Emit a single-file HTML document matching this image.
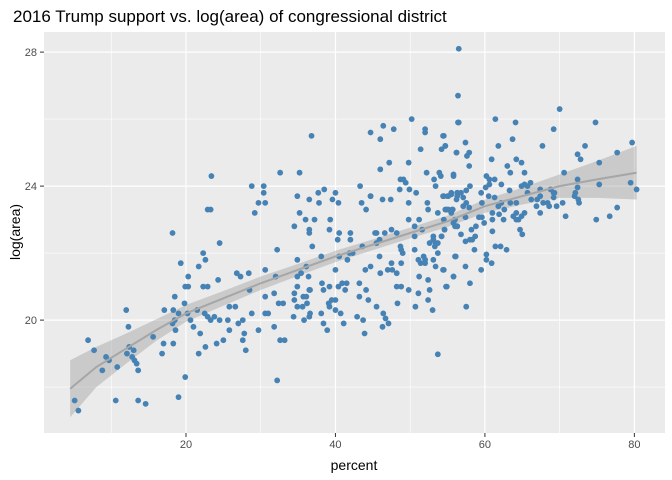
<!DOCTYPE html>
<html><head><meta charset="utf-8"><style>
body{margin:0;background:#fff;font-family:"Liberation Sans",sans-serif}
svg{display:block}
</style></head><body>
<svg id="chart" width="672" height="480" xmlns="http://www.w3.org/2000/svg">
<text x="13" y="22" font-size="17" fill="#000">2016 Trump support vs. log(area) of congressional district</text>
<rect x="44" y="32" width="621" height="401" fill="#ebebeb"/>
<g id="grid"></g><g id="ribbon"></g><g id="pts"></g><g id="axes"></g>
<text x="354" y="470" font-size="14" text-anchor="middle" fill="#000">percent</text>
<text transform="translate(20,232) rotate(-90)" font-size="14" text-anchor="middle" fill="#000">log(area)</text>
</svg>
<script>
const xTicks=[20,40,60,80];
const yTicks=[20,24,28];
const xMinor=[10,30,50,70];
const yMinor=[18,22,26];
const ptX=[5.1,5.6,6.9,7.7,9.3,9.7,8.8,10.8,10.6,12.0,12.3,12.4,12.1,13.0,12.8,13.1,13.4,13.6,13.6,14.6,15.6,16.8,17.0,18.2,17.1,18.3,18.5,19.3,19.0,18.2,18.5,18.6,18.3,19.9,19.0,19.8,19.9,20.3,20.3,20.2,20.6,21.0,21.5,21.7,22.3,22.6,22.3,22.9,21.9,21.7,22.6,22.5,22.9,23.3,23.8,23.4,22.9,23.3,24.5,24.3,24.5,24.1,25.0,25.6,25.8,25.8,26.6,26.8,27.3,28.4,28.5,28.8,27.0,27.6,27.8,27.6,28.0,29.7,28.8,29.2,29.7,30.4,30.4,
30.6,36.8,32.6,35.2,32.2,30.6,30.6,31.8,32.0,32.4,33.0,30.6,31.0,31.8,32.6,33.2,32.2,34.4,34.5,34.5,34.9,34.9,34.9,35.2,34.5,36.0,36.5,36.5,36.5,36.9,37.2,37.7,38.5,37.8,39.3,39.2,39.6,40.0,40.4,40.5,40.3,42.0,42.0,43.3,43.5,44.1,44.7,46.4,46.0,47.8,50.2,52.0,52.0,54.5,56.5,51.4,54.2,54.7,56.2,47.2,46.0,49.8,52.2,53.9,54.1,53.2,53.4,55.8,48.7,49.1,49.4,48.6,49.9,50.8,44.7,44.7,46.3,47.4,49.8,52.3,52.4,54.5,55.0,55.5,56.3,56.3,54.9,55.7,53.7,54.5,49.8,51.2,50.6,51.6,50.6,48.2,47.5,46.6,45.3,45.5,45.9,43.6,45.5,45.9,48.7,48.8,49.0,50.6,53.1,53.1,53.4,53.3,53.7,52.6,54.2,54.6,55.8,56.3,56.1,53.7,51.8,52.0,51.1,51.4,52.0,53.1,53.4,54.5,51.2,52.4,52.6,55.8,54.9,51.1,52.4,53.0,50.7,49.8,48.8,48.2,48.2,48.8,48.3,47.0,47.6,47.5,46.0,44.7,44.0,43.2,44.1,43.2,44.4,45.5,46.4,46.7,47.1,46.3,42.9,43.7,43.9,41.1,40.7,40.0,39.2,39.1,39.5,40.0,39.2,38.2,38.4,40.4,40.9,41.5,41.3,40.0,40.5,41.6,41.9,42.3,38.1,36.1,36.4,34.9,35.4,36.5,36.6,35.7,36.1,34.9,35.6,36.2,35.8,36.5,36.6,38.1,38.4,38.9,53.7,
56.5,56.4,56.4,61.4,64.1,70.0,69.2,74.8,79.7,54.4,54.7,57.4,56.2,57.6,57.9,57.9,61.8,63.7,60.9,67.7,63.0,64.2,64.9,63.4,65.3,60.2,60.6,61.3,60.6,55.8,62.2,58.0,60.1,59.5,63.3,64.9,65.3,65.7,66.1,70.6,73.4,72.4,72.8,75.3,77.7,72.4,72.4,75.3,79.5,80.3,54.4,55.1,55.5,56.3,56.8,57.1,57.5,56.2,57.5,57.9,57.4,57.1,54.7,55.1,55.6,55.5,55.8,56.0,56.3,56.0,54.6,54.2,56.8,58.2,58.8,57.4,58.0,58.3,58.7,58.6,56.0,54.4,57.4,55.8,54.8,58.0,57.5,60.2,60.2,60.9,59.5,61.4,62.1,62.9,61.0,59.9,59.2,59.6,59.6,60.5,61.3,61.0,61.0,61.9,62.5,61.8,62.2,62.6,63.4,64.2,63.8,64.2,64.5,64.9,65.3,64.2,64.7,65.0,65.7,66.2,66.9,67.4,67.0,67.4,67.4,67.8,68.4,68.6,68.8,69.2,69.2,69.3,69.6,70.4,70.8,72.0,72.1,72.5,72.6,74.9,76.7,77.7];
const ptY=[17.6,17.3,19.4,19.1,18.9,18.8,18.5,18.6,17.6,20.3,19.8,19.2,19.0,19.1,18.9,18.8,18.7,18.5,17.6,17.5,19.5,19.0,19.3,22.6,20.3,20.3,20.7,21.7,20.2,19.9,20.0,19.7,19.3,18.3,17.7,20.5,21.0,21.3,21.0,20.2,20.0,19.8,20.3,21.6,22.0,21.8,21.0,21.0,19.6,19.0,19.2,20.2,20.1,20.0,20.1,24.3,23.3,23.3,22.3,21.2,20.0,19.3,19.4,20.0,19.7,20.4,20.4,21.4,21.3,21.4,20.9,20.2,19.9,20.0,19.6,19.4,19.1,19.7,24.0,23.2,23.5,24.0,23.8,
23.5,25.5,24.4,24.4,22.1,21.5,20.7,20.8,21.3,20.5,20.5,20.2,20.2,19.8,19.4,19.4,18.2,20.1,20.6,20.8,21.0,21.8,23.7,23.2,22.8,23.0,23.6,22.7,22.6,22.2,23.0,23.8,23.9,23.5,23.0,22.7,23.6,23.8,23.5,22.6,22.4,22.6,22.4,24.0,23.5,23.3,25.6,25.8,25.4,25.7,26.0,25.7,25.6,25.5,25.9,25.1,25.1,25.2,25.0,24.7,24.5,24.7,24.4,24.4,24.3,24.2,24.0,24.3,24.2,24.2,24.1,23.9,23.9,23.8,23.7,23.7,23.6,23.6,23.5,23.5,23.3,23.7,23.7,23.8,23.8,23.7,23.3,23.3,23.2,23.0,23.0,23.0,22.8,22.7,22.5,22.6,22.7,22.6,22.6,22.6,22.4,22.2,22.3,21.9,22.2,22.1,22.0,22.1,22.5,22.4,22.3,22.2,22.3,22.3,22.5,22.7,22.9,22.8,21.9,22.0,21.9,21.8,21.8,21.7,21.7,21.8,21.6,21.5,21.3,21.2,20.9,21.3,21.0,20.8,20.6,20.3,20.4,20.9,21.7,21.4,21.0,21.0,20.5,21.5,21.5,21.7,21.4,21.6,21.5,21.1,20.9,20.7,20.6,20.4,20.2,20.05,19.9,19.8,20.1,20.0,19.6,19.9,20.2,20.3,20.4,20.5,20.6,20.6,21.0,21.1,20.9,21.0,21.1,21.1,20.9,21.5,21.9,21.8,22.0,22.0,21.9,21.6,21.3,21.3,21.4,20.9,20.9,20.7,20.7,20.4,20.4,20.5,20.0,20.1,20.2,20.2,19.9,19.7,18.98,
28.1,26.7,25.9,26.0,25.9,26.3,25.7,25.9,25.3,25.5,25.2,25.3,25.0,24.9,25.0,24.6,25.2,25.4,24.8,25.2,24.6,24.8,24.7,24.4,24.4,24.3,24.2,24.2,24.05,24.35,24.05,24.0,23.96,23.8,23.87,24.0,24.05,24.0,24.1,24.4,25.2,24.95,24.8,24.7,25.0,24.2,23.96,24.05,24.1,23.9,23.7,23.7,23.75,23.8,23.8,23.66,23.87,23.6,23.5,23.36,23.07,23.4,23.3,23.3,23.3,23.2,22.9,22.8,22.8,23.0,22.7,22.5,22.56,22.7,22.8,22.35,22.4,22.4,22.5,22.1,21.9,21.5,21.6,21.3,21.0,21.1,20.4,21.96,21.8,21.7,21.5,22.2,22.2,22.1,22.65,22.9,23.07,23.07,23.5,23.7,23.66,23.2,23.0,23.16,23.0,23.4,23.5,23.3,23.5,23.5,23.1,23.0,23.0,23.1,23.2,23.2,22.7,22.56,23.8,23.6,23.4,23.2,23.6,23.7,23.9,23.5,23.5,23.4,23.9,23.8,23.66,23.8,23.4,23.5,23.1,23.7,23.8,23.6,23.5,23.0,23.1,23.36];
const fitX=[4.5,8,12,16,20,25,30,35,40,45,50,55,60,65,70,75,80.3];
const fitY=[17.95,18.6,19.15,19.7,20.2,20.65,21.1,21.5,21.9,22.25,22.6,22.95,23.4,23.7,24.0,24.2,24.4];
const fitSE=[0.85,0.6,0.45,0.32,0.25,0.22,0.2,0.18,0.17,0.16,0.16,0.17,0.2,0.25,0.35,0.55,0.8];
const X0=1.0,X1=84.1,Y0=16.63,Y1=28.6,L=44,R=665,T=32,B=433;
const sx=v=>L+(v-X0)/(X1-X0)*(R-L);
const sy=v=>B-(v-Y0)/(Y1-Y0)*(B-T);
const NS="http://www.w3.org/2000/svg";
function mk(tag,parent,attrs){const e=document.createElementNS(NS,tag);for(const k in attrs)e.setAttribute(k,attrs[k]);parent.appendChild(e);return e;}
const grid=document.getElementById('grid'),axes=document.getElementById('axes');
xMinor.forEach(v=>{const l=mk('line',grid,{x1:sx(v),x2:sx(v),y1:T,y2:B,stroke:'#fff','stroke-width':0.6});

});
yMinor.forEach(v=>{const l=mk('line',grid,{x1:L,x2:R,y1:sy(v),y2:sy(v),stroke:'#fff','stroke-width':0.6});

});
xTicks.forEach(v=>{const l=mk('line',grid,{x1:sx(v),x2:sx(v),y1:T,y2:B,stroke:'#fff','stroke-width':1.2});


const t=mk('line',axes,{x1:sx(v),x2:sx(v),y1:B,y2:B+4,stroke:'#333'});


const tx=mk('text',axes,{x:sx(v),y:B+15,'font-size':11,fill:'#4d4d4d','text-anchor':'middle'});tx.textContent=v;

});
yTicks.forEach(v=>{const l=mk('line',grid,{x1:L,x2:R,y1:sy(v),y2:sy(v),stroke:'#fff','stroke-width':1.2});


const t=mk('line',axes,{x1:L-4,x2:L,y1:sy(v),y2:sy(v),stroke:'#333'});


const tx=mk('text',axes,{x:L-7,y:sy(v)+4,'font-size':11,fill:'#4d4d4d','text-anchor':'end'});tx.textContent=v;

});
const rib=document.getElementById('ribbon');
let up=fitX.map((x,i)=>sx(x)+','+sy(fitY[i]+fitSE[i]));
let dn=fitX.map((x,i)=>sx(x)+','+sy(fitY[i]-fitSE[i])).reverse();
const poly=mk('polygon',rib,{points:up.concat(dn).join(' '),fill:'#999','fill-opacity':0.4});


const pts=document.getElementById('pts');
ptX.forEach((x,i)=>{const c=mk('circle',pts,{cx:sx(x),cy:sy(ptY[i]),r:2.9,fill:'#4682b4'});

});
const ln=mk('polyline',pts,{points:fitX.map((x,i)=>sx(x)+','+sy(fitY[i])).join(' '),fill:'none',stroke:'#a6a6a6','stroke-width':2});


</script>
</body></html>
